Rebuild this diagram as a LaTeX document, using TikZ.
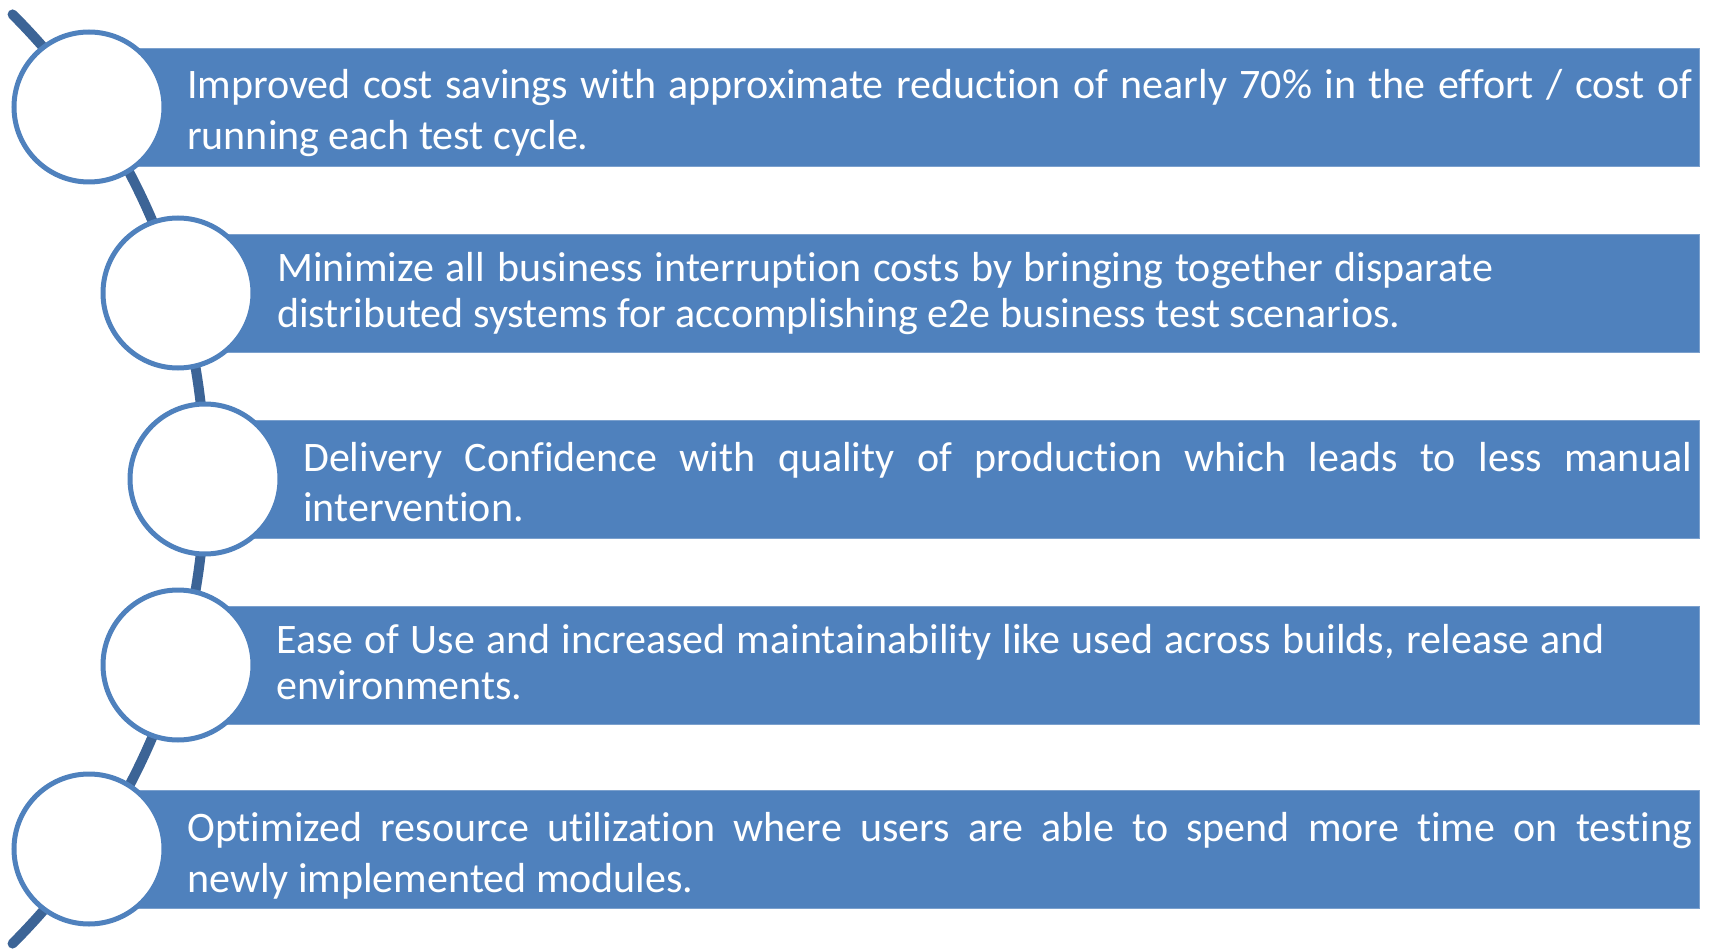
\documentclass[tikz,border=0pt]{standalone}
\usepackage{fontspec}
\setmainfont[RawFeature={-liga;-clig;-calt}]{Carlito}
\usetikzlibrary{positioning}
\usetikzlibrary{calc}

\definecolor{barblue}{RGB}{79,129,189}
\definecolor{spineblue}{RGB}{60,100,150}

\hyphenpenalty=10000
\tolerance=9999

\tikzset{
    benefitbar/.style={fill=barblue, draw=barblue!75!white, line width=0.8pt, inner sep=0pt, anchor=west, minimum height=118pt},
    bullet/.style={circle, draw=barblue, fill=white, line width=5pt, minimum size=150pt, inner sep=0pt},
    loosetext/.style={text=white, inner sep=0pt, anchor=base west, align=justify, font=\fontsize{42}{51}\selectfont},
    densetext/.style={text=white, inner sep=0pt, anchor=base west, align=justify, font=\fontsize{42}{46}\selectfont},
}

\begin{document}
\begin{tikzpicture}[x=1pt, y=1pt]
        \useasboundingbox (0,0) rectangle (1716,-949);
        % spine behind the circles
        \coordinate (spineC) at (-452,-479);
        \coordinate (spineTop) at ($(spineC)+(45:657)$);
        \draw [spineblue, line width=10pt, line cap=round] (spineTop) arc [start angle=45, end angle=-45, radius=657];

        \node (costBar) [benefitbar, minimum width=1610pt] at (89,-107) {};
        \node (costCircle) [bullet] at (89,-107) {};
        \node (costText) [loosetext, text width=1505pt] at (187,-99)
            {Improved cost savings with approximate reduction of nearly 70\% in the effort / cost of\linebreak running each test cycle.};

        \node (interruptBar) [benefitbar, minimum width=1521pt] at (178,-293) {};
        \node (interruptCircle) [bullet] at (178,-293) {};
        \node (interruptText) [densetext, text width=1216pt] at (277,-282)
            {Minimize all business interruption costs by bringing together disparate\linebreak distributed systems for accomplishing e2e business test scenarios.};

        \node (confidenceBar) [benefitbar, minimum width=1494pt] at (205,-479) {};
        \node (confidenceCircle) [bullet] at (205,-479) {};
        \node (confidenceText) [loosetext, text width=1389pt] at (303,-471)
            {Delivery Confidence with quality of production which leads to less manual\linebreak intervention.};

        \node (easeBar) [benefitbar, minimum width=1521pt] at (178,-665) {};
        \node (easeCircle) [bullet] at (178,-665) {};
        \node (easeText) [densetext, text width=1329pt] at (276,-653)
            {Ease of Use and increased maintainability like used across builds, release and\linebreak environments.};

        \node (resourceBar) [benefitbar, minimum width=1610pt] at (89,-849) {};
        \node (resourceCircle) [bullet] at (89,-849) {};
        \node (resourceText) [loosetext, text width=1505pt] at (187,-841)
            {Optimized resource utilization where users are able to spend more time on testing\linebreak newly implemented modules.};
\end{tikzpicture}
\end{document}
